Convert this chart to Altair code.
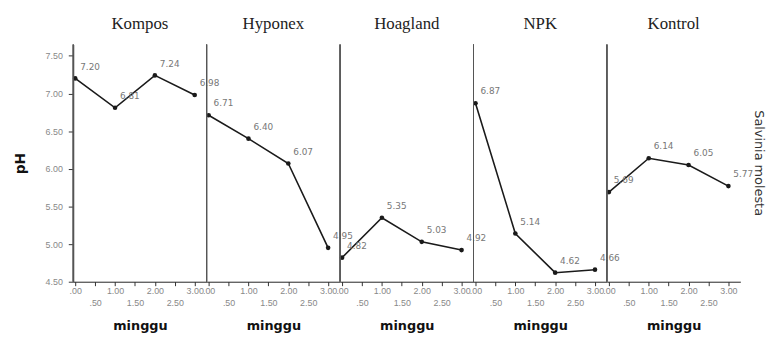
import altair as alt
import pandas as pd

treatments = ["Kompos", "Hyponex", "Hoagland", "NPK", "Kontrol"]
weeks = [0, 1, 2, 3]
kompos = [7.20, 6.81, 7.24, 6.98]
hyponex = [6.71, 6.40, 6.07, 4.95]
hoagland = [4.82, 5.35, 5.03, 4.92]
npk = [6.87, 5.14, 4.62, 4.66]
kontrol = [5.69, 6.14, 6.05, 5.77]
species = "Salvinia molesta"
y_ticks = [4.5, 5.0, 5.5, 6.0, 6.5, 7.0, 7.5]
x_ticks = [0, 0.5, 1, 1.5, 2, 2.5, 3]

series = [kompos, hyponex, hoagland, npk, kontrol]
rows = []
for t, vals in zip(treatments, series):
    for w, v in zip(weeks, vals):
        rows.append({"Perlakuan": t, "minggu": w, "pH": v, "Spesies": species})
df = pd.DataFrame(rows)

x_enc = alt.X(
    "minggu:Q",
    scale=alt.Scale(domain=[-0.05, 3.3], nice=False, zero=False),
    axis=alt.Axis(
        values=x_ticks,
        title="minggu",
        labelExpr="datum.value == 0 ? '.00' : (datum.value == 0.5 ? '.50' : format(datum.value, '.2f'))",
        labelPadding={"condition": {"test": "datum.value % 1 != 0", "value": 13}, "value": 1},
        labelOverlap=False,
        labelFlush=False,
        labelFontSize=9,
        labelColor="#888888",
        tickColor="#333333",
        tickSize=4,
        domainColor="#222222",
        titleFont="DejaVu Sans",
        titleFontWeight="bold",
        titleFontSize=13,
        titleColor="#111111",
        titlePadding=12,
        grid=False,
    ),
)
y_enc = alt.Y(
    "pH:Q",
    scale=alt.Scale(domain=[4.5, 7.65], nice=False, zero=False),
    axis=alt.Axis(
        values=y_ticks,
        format=".2f",
        title="pH",
        labelOverlap=False,
        labelFontSize=9,
        labelColor="#888888",
        labelPadding=6,
        tickColor="#333333",
        tickSize=5,
        domainColor="#222222",
        titleFont="DejaVu Sans",
        titleFontWeight="bold",
        titleFontSize=14,
        titleColor="#111111",
        titlePadding=18,
        grid=False,
    ),
)

base = alt.Chart(df).encode(x=x_enc, y=y_enc)
line = base.mark_line(color="#1a1a1a", strokeWidth=1.6)
pts = base.mark_circle(color="#1a1a1a", size=22, opacity=1)
labels = base.mark_text(
    fontSize=9, color="#777777", dx=15, dy=-12, font="DejaVu Sans"
).encode(text=alt.Text("pH:Q", format=".2f"))
divider = alt.Chart(df).mark_rule(color="#555555", strokeWidth=1).encode(
    x=alt.value(0), y=alt.value(0), y2=alt.value(240)
)

layered = alt.layer(line, pts, labels, divider).properties(width=135, height=240)

chart = layered.facet(
    column=alt.Column(
        "Perlakuan:N",
        sort=treatments,
        title=None,
        header=alt.Header(
            labelFont="Liberation Serif",
            labelFontSize=17,
            labelColor="#222222",
            labelPadding=12,
        ),
    ),
    row=alt.Row(
        "Spesies:N",
        title=None,
        header=alt.Header(
            labelOrient="right",
            labelAngle=90,
            labelFont="DejaVu Sans",
            labelFontSize=13,
            labelColor="#333333",
            labelPadding=12,
        ),
    ),
    spacing=0,
    bounds="flush",
).configure_view(stroke=None)

chart.save("out.html", embed_options={"renderer": "svg", "actions": False})
